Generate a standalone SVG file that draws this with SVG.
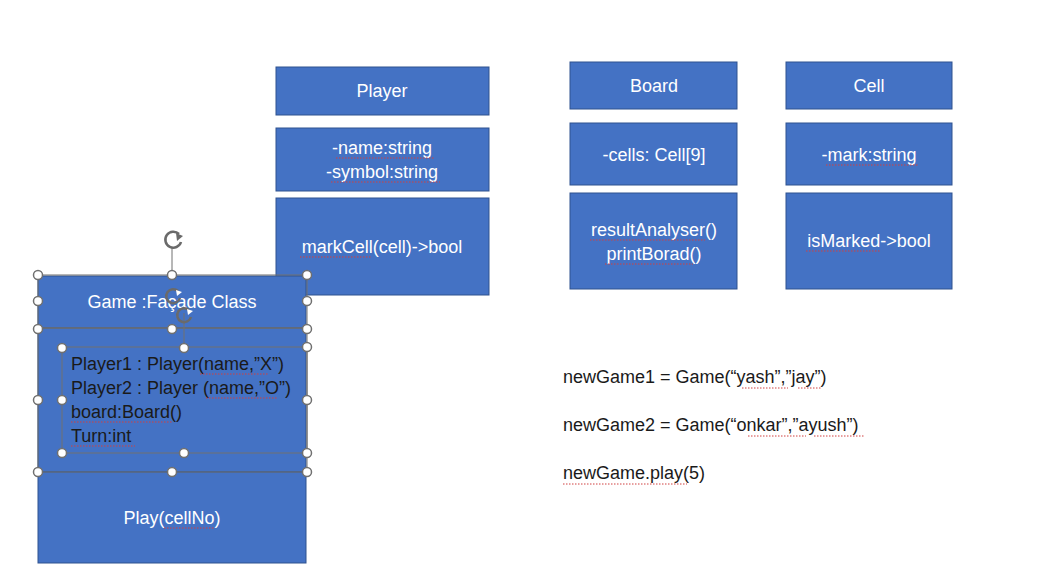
<svg xmlns="http://www.w3.org/2000/svg" width="1040" height="587" viewBox="0 0 1040 587">
<style>
.box{fill:#4472C4;stroke:#2F528F;stroke-width:1}
.t{font-family:"Liberation Sans",Arial,sans-serif;font-size:18px;fill:#ffffff;text-anchor:middle;dominant-baseline:central}
.d{font-family:"Liberation Sans",Arial,sans-serif;font-size:18px;fill:#1a1a1a;dominant-baseline:central}
.sq{fill:none;stroke:#d04040;stroke-width:1;stroke-dasharray:1.5 1.5}
.sel{fill:none;stroke:#707070;stroke-width:1}
.h{fill:#ffffff;stroke:#707070;stroke-width:1.5}
.rot{fill:none;stroke:#6a6a6a;stroke-width:2.5}
</style>
<rect width="1040" height="587" fill="#ffffff"/>

<g id="player">
<rect class="box" x="276" y="67" width="213" height="48"/>
<text class="t" x="382" y="91">Player</text>
<rect class="box" x="276" y="128" width="213" height="63"/>
<text class="t" x="382" y="148">-name:string</text>
<text class="t" x="382" y="172">-symbol:string</text>
<path class="sq" d="M336 158H434M331 182H440"/>
<rect class="box" x="276" y="198" width="213" height="97"/>
<text class="t" x="382" y="247">markCell(cell)-&gt;bool</text>
<path class="sq" d="M300 257H372"/>
</g>

<g id="board">
<rect class="box" x="570" y="62" width="167" height="47"/>
<text class="t" x="654" y="86">Board</text>
<rect class="box" x="570" y="123" width="167" height="62"/>
<text class="t" x="654" y="155">-cells: Cell[9]</text>
<rect class="box" x="570" y="193" width="167" height="96"/>
<text class="t" x="654" y="230">resultAnalyser()</text>
<text class="t" x="654" y="254">printBorad()</text>
<path class="sq" d="M590 240H705M605 264H693"/>
</g>

<g id="cell">
<rect class="box" x="786" y="62" width="166" height="47"/>
<text class="t" x="869" y="86">Cell</text>
<rect class="box" x="786" y="123" width="166" height="62"/>
<text class="t" x="869" y="155">-mark:string</text>
<path class="sq" d="M826 165H918"/>
<rect class="box" x="786" y="193" width="166" height="96"/>
<text class="t" x="869" y="241">isMarked-&gt;bool</text>
<path class="sq" d="M806 251H880"/>
</g>

<g id="game">
<rect class="box" x="38" y="276" width="268" height="52"/>
<text class="t" x="172" y="302">Game :Façade Class</text>
<rect class="box" x="38" y="328" width="268" height="144"/>
<text class="d" x="71" y="364">Player1 : Player(name,”X”)</text>
<text class="d" x="71" y="388">Player2 : Player (name,”O”)</text>
<text class="d" x="71" y="412">board:Board()</text>
<text class="d" x="71" y="436">Turn:int</text>
<path class="sq" d="M200 374H268M206 398H277M71 422H173M71 446H135"/>
<rect class="box" x="38" y="472" width="268" height="91"/>
<text class="t" x="172" y="518">Play(cellNo)</text>
<path class="sq" d="M164 528H215"/>
</g>

<g id="selection">
<line class="sel" x1="172" y1="248" x2="172" y2="276"/>
<rect class="sel" x="38" y="275" width="269" height="53"/>
<rect class="sel" x="38" y="328" width="269" height="144"/>
<rect class="sel" x="62" y="347" width="245" height="106"/>
<line class="sel" x1="184" y1="313" x2="184" y2="347"/>
<path class="rot" d="M181 242a8 8 0 1 1 -2 -8"/>
<path d="M176 233l7 3 -6 5z" fill="#6a6a6a"/>
<path class="rot" d="M180 298a7 7 0 1 1 -2 -7" stroke="#ffffff" stroke-width="2"/>
<path d="M176 290l6 2 -5 4z" fill="#ffffff"/>
<path class="rot" d="M191 317a7 7 0 1 1 -2 -7" stroke="#ffffff" stroke-width="2"/>
<path d="M187 309l6 2 -5 4z" fill="#ffffff"/>
<circle class="h" cx="38" cy="275" r="4.5"/>
<circle class="h" cx="172" cy="275" r="4.5"/>
<circle class="h" cx="307" cy="275" r="4.5"/>
<circle class="h" cx="38" cy="301" r="4.5"/>
<circle class="h" cx="307" cy="301" r="4.5"/>
<circle class="h" cx="38" cy="329" r="4.5"/>
<circle class="h" cx="172" cy="329" r="4.5"/>
<circle class="h" cx="307" cy="329" r="4.5"/>
<circle class="h" cx="62" cy="348" r="4.5"/>
<circle class="h" cx="184" cy="348" r="4.5"/>
<circle class="h" cx="307" cy="347" r="4.5"/>
<circle class="h" cx="38" cy="400" r="4.5"/>
<circle class="h" cx="62" cy="400" r="4.5"/>
<circle class="h" cx="307" cy="400" r="4.5"/>
<circle class="h" cx="62" cy="453" r="4.5"/>
<circle class="h" cx="184" cy="453" r="4.5"/>
<circle class="h" cx="307" cy="453" r="4.5"/>
<circle class="h" cx="38" cy="472" r="4.5"/>
<circle class="h" cx="172" cy="472" r="4.5"/>
<circle class="h" cx="307" cy="472" r="4.5"/>
</g>

<g id="code">
<text class="d" x="563" y="377">newGame1 = Game(“yash”,”jay”)</text>
<text class="d" x="563" y="425">newGame2 = Game(“onkar”,”ayush”)</text>
<text class="d" x="563" y="473">newGame.play(5)</text>
<path class="sq" d="M742 388H788M798 388H822M748 436H806M814 436H864M563 484H687"/>
</g>
</svg>
